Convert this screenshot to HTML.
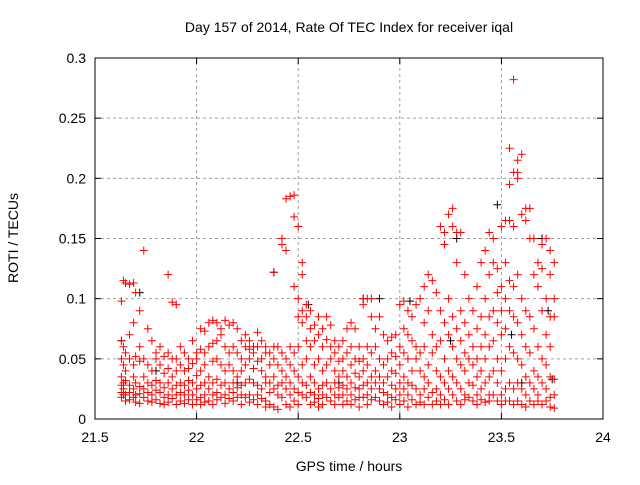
<!DOCTYPE html>
<html><head><meta charset="utf-8"><style>
body{margin:0;background:#fff;}
svg text{font-family:"Liberation Sans",sans-serif;font-size:14px;fill:#000;}
</style></head><body>
<svg id="chart" width="640" height="480" xmlns="http://www.w3.org/2000/svg">
<text x="349" y="32" text-anchor="middle">Day 157 of 2014, Rate Of TEC Index for receiver iqal</text>
<text x="349" y="471" text-anchor="middle">GPS time / hours</text>
<text transform="translate(18,238) rotate(-90)" text-anchor="middle">ROTI / TECUs</text>
<g id="grid"></g>
<g id="axes"></g>
<g id="black"></g>
<g id="red"></g>
<rect x="95" y="58" width="508" height="361" fill="none" stroke="#000" stroke-width="1"/>
</svg>
<script>
const xTicks=[21.5,22,22.5,23,23.5,24];
const xTickLabels=["21.5","22","22.5","23","23.5","24"];
const yTicks=[0,0.05,0.1,0.15,0.2,0.25,0.3];
const yTickLabels=["0","0.05","0.1","0.15","0.2","0.25","0.3"];
const redRows=[
[21.63,.098,.065,.05,.035,.028,.022,.018],[21.64,.115,.06,.045,.03,.025,.02],[21.65,.113,.055,.04,.032,.02,.015],
[21.67,.112,.07,.05,.028,.022,.016],[21.69,.113,.08,.045,.035,.025,.018],[21.70,.105,.052,.03,.02,.014],
[21.72,.09,.06,.048,.027,.021,.013],[21.74,.14,.05,.035,.025,.018],[21.76,.075,.045,.03,.022,.015],
[21.78,.065,.04,.028,.02,.014],[21.80,.055,.05,.032,.024,.016],[21.82,.06,.045,.03,.022,.013],
[21.84,.052,.038,.026,.018,.012],[21.86,.12,.055,.042,.03,.02,.014],[21.88,.097,.05,.035,.025,.017],
[21.90,.095,.05,.04,.028,.02,.012],[21.92,.06,.045,.03,.022,.015],[21.94,.055,.04,.028,.02,.013],
[21.96,.05,.042,.032,.024,.016],[21.98,.065,.046,.03,.02,.012],[22.00,.055,.05,.036,.025,.016],
[22.02,.075,.058,.04,.028,.018,.012],[22.04,.073,.055,.045,.03,.02,.014],[22.06,.08,.06,.035,.025,.015],
[22.08,.082,.063,.048,.03,.02,.012],[22.10,.08,.065,.05,.033,.022,.016],[22.12,.075,.07,.045,.028,.018],
[22.14,.082,.06,.04,.03,.02,.013],[22.16,.078,.055,.045,.025,.017],[22.18,.08,.06,.04,.03,.022,.015],
[22.20,.075,.055,.035,.026,.018],[22.22,.065,.05,.04,.028,.02,.012],[22.24,.07,.06,.045,.03,.018],
[22.26,.065,.058,.05,.033,.02,.014],[22.28,.06,.055,.042,.03,.016],[22.30,.072,.06,.048,.028,.02,.012],
[22.32,.065,.05,.04,.025,.017],[22.34,.06,.055,.035,.03,.015,.01],[22.36,.055,.045,.03,.022,.012],
[22.38,.122,.06,.05,.035,.025,.01],[22.40,.06,.045,.028,.02,.008],[22.42,.15,.145,.055,.04,.03,.018],
[22.44,.14,.183,.05,.035,.025,.012],[22.46,.185,.06,.045,.03,.02,.01],[22.48,.186,.168,.11,.055,.04,.025,.015],
[22.50,.16,.1,.085,.06,.035,.022,.012],[22.52,.13,.12,.09,.08,.045,.03,.02],[22.54,.095,.085,.065,.05,.028,.018],
[22.56,.09,.075,.06,.035,.022,.012],[22.58,.078,.065,.045,.03,.02,.014],[22.60,.085,.07,.05,.025,.017,.01],
[22.62,.075,.06,.04,.028,.02,.012],[22.64,.085,.066,.045,.03,.018],[22.66,.078,.06,.05,.025,.015],
[22.68,.065,.055,.04,.03,.02,.012],[22.70,.06,.048,.035,.026,.018],[22.72,.065,.05,.04,.028,.02,.012],
[22.74,.075,.055,.035,.025,.015],[22.76,.08,.06,.045,.03,.02,.012],[22.78,.075,.05,.038,.026,.016],
[22.80,.06,.048,.035,.025,.018,.01],[22.82,.1,.095,.05,.04,.028,.018],[22.84,.1,.06,.045,.03,.02,.012],
[22.86,.1,.085,.055,.035,.025,.016],[22.88,.075,.06,.04,.03,.018],[22.90,.085,.05,.035,.025,.015],
[22.92,.07,.045,.03,.022,.012],[22.94,.065,.05,.035,.02,.014],[22.96,.068,.055,.04,.028,.018,.01],
[22.98,.07,.052,.038,.025,.016],[23.00,.095,.06,.045,.03,.02,.012],[23.02,.098,.075,.055,.035,.025,.015],
[23.04,.09,.07,.05,.03,.02,.01],[23.06,.085,.065,.04,.028,.016],[23.08,.095,.06,.05,.025,.012],
[23.10,.1,.055,.04,.02,.014],[23.12,.11,.08,.06,.035,.025,.012],[23.14,.12,.09,.045,.03,.018],
[23.16,.115,.07,.055,.022,.012],[23.18,.105,.06,.04,.025,.015],[23.20,.16,.09,.065,.035,.02,.012],
[23.22,.155,.145,.08,.05,.03,.016],[23.24,.17,.1,.07,.04,.025,.012],[23.26,.175,.16,.085,.06,.035,.02],
[23.28,.155,.13,.075,.05,.03,.015],[23.30,.155,.09,.065,.045,.025,.012],[23.32,.12,.08,.055,.04,.02,.016],
[23.34,.1,.07,.05,.03,.018],[23.36,.09,.06,.045,.028,.015],[23.38,.11,.075,.05,.035,.02,.012],
[23.40,.13,.085,.06,.04,.025,.016],[23.42,.14,.1,.07,.05,.03,.014],[23.44,.155,.12,.085,.06,.035,.02,.015],
[23.46,.15,.13,.09,.065,.04,.02],[23.48,.125,.105,.08,.05,.03,.015],[23.50,.16,.11,.09,.07,.04,.02,.012],
[23.52,.165,.13,.1,.075,.05,.025,.015],[23.54,.225,.195,.165,.115,.09,.06,.03,.015],
[23.56,.282,.205,.16,.11,.085,.055,.025,.012],[23.58,.215,.205,.2,.12,.08,.05,.03,.015],
[23.60,.22,.17,.1,.07,.045,.025,.012],[23.62,.175,.165,.09,.06,.035,.02,.01],[23.64,.175,.15,.085,.055,.03,.015],
[23.66,.15,.12,.075,.04,.025,.012],[23.68,.13,.11,.06,.035,.02,.015],[23.70,.145,.125,.09,.05,.03,.012],
[23.72,.15,.1,.07,.045,.025,.015],[23.74,.14,.12,.085,.06,.035,.018,.01],[23.76,.13,.1,.085,.033,.02,.009]
];
const blackTimes=[21.63,21.72,21.8,22.2,22.38,22.55,22.7,22.82,22.9,23.05,23.25,23.28,23.48,23.55,23.6,23.7,23.73,23.75];
const blackRoti=[.065,.105,.04,.03,.122,.095,.03,.1,.1,.098,.065,.15,.178,.07,.03,.15,.09,.033];

const NS="http://www.w3.org/2000/svg";
const X0=95,X1=603,Y0=419,Y1=58;
const xScale=t=>X0+(t-21.5)/(24-21.5)*(X1-X0);
const yScale=v=>Y0-v/0.3*(Y0-Y1);
function mk(tag,attrs,parent){const e=document.createElementNS(NS,tag);for(const k in attrs)e.setAttribute(k,attrs[k]);parent.appendChild(e);return e;}
const grid=document.getElementById('grid'),axes=document.getElementById('axes');
xTicks.forEach((t,i)=>{const x=xScale(t);
 if(i>0&&i<xTicks.length-1){const g=mk('line',{x1:x,y1:Y0,x2:x,y2:Y1,stroke:'#a0a0a0','stroke-dasharray':'3,3'},grid);
 
 }
 mk('line',{x1:x,y1:Y0,x2:x,y2:Y0-6,stroke:'#000'},axes);mk('line',{x1:x,y1:Y1,x2:x,y2:Y1+6,stroke:'#000'},axes);
 const tx=mk('text',{x:x,y:Y0+23,'text-anchor':'middle'},axes);tx.textContent=xTickLabels[i];
 
 });
yTicks.forEach((v,i)=>{const y=yScale(v);
 if(i>0&&i<yTicks.length-1){const g=mk('line',{x1:X0,y1:y,x2:X1,y2:y,stroke:'#a0a0a0','stroke-dasharray':'3,3'},grid);
 
 }
 mk('line',{x1:X0,y1:y,x2:X0+6,y2:y,stroke:'#000'},axes);mk('line',{x1:X1,y1:y,x2:X1-6,y2:y,stroke:'#000'},axes);
 const tx=mk('text',{x:X0-9,y:y+5,'text-anchor':'end'},axes);tx.textContent=yTickLabels[i];
 
 });
function plus(t,v,col,parent,name){const x=xScale(t),y=yScale(v);
 const p=mk('path',{d:`M${x-4},${y}H${x+4}M${x},${y-4}V${y+4}`,stroke:col,'stroke-width':1,fill:'none'},parent);
 
 }
const bg=document.getElementById('black');
blackTimes.forEach((t,i)=>plus(t,blackRoti[i],'#000',bg,'black-point'));
const rg=document.getElementById('red');
redRows.forEach(r=>{for(let j=1;j<r.length;j++)plus(r[0],r[j],'#ff0000',rg,'red-point');});
</script>
</body></html>
